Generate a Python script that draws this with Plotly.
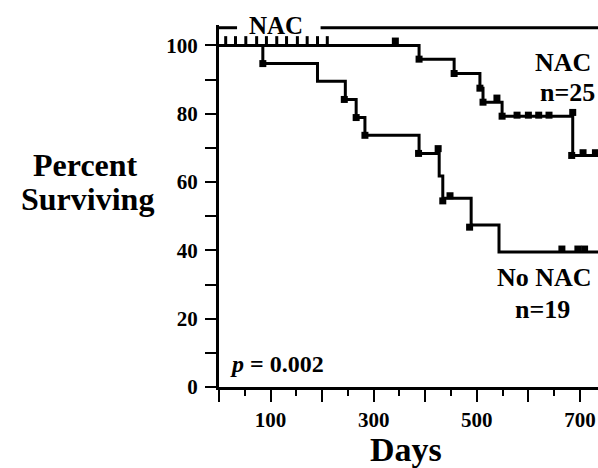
import plotly.graph_objects as go

# ---- data ----
nac_days = [0, 388, 456, 506, 512, 549, 686, 735]
nac_pct = [100, 96, 91.8, 87.5, 83.4, 79.3, 67.8, 67.8]

nonac_days = [0, 85, 191, 245, 266, 283, 388, 427, 434, 489, 543, 735]
nonac_pct = [100, 94.7, 89.5, 84.2, 78.9, 73.7, 68.4, 61.8, 55.3, 47.4, 39.5, 39.5]

nac_mark_days = [342, 388, 456, 506, 512, 539, 549, 578, 600, 620, 640, 686, 684, 706, 730]
nac_mark_pct = [101.3, 96, 91.8, 87.5, 83.4, 84.6, 79.3, 79.6, 79.6, 79.6, 79.6, 80.4, 67.8, 68.6, 68.6]

nonac_mark_days = [85, 243, 266, 283, 387, 425, 434, 448, 486, 665, 696, 709]
nonac_mark_pct = [94.7, 84.2, 78.9, 73.7, 68.4, 69.8, 54.5, 56.0, 46.8, 40.4, 40.4, 40.4]

nac_censor_days = [13, 32, 52, 73, 92, 112, 131, 152, 171, 191, 210]
nac_censor_pct = [101.3] * len(nac_censor_days)

x_tick_vals = [0, 100, 200, 300, 400, 500, 600, 700]
x_tick_text = ["", "100", "", "300", "", "500", "", "700"]
y_tick_vals = [0, 20, 40, 60, 80, 100]
y_tick_text = ["0", "20", "40", "60", "80", "100"]

# ---- layout geometry (pixels) ----
W, H = 598, 468
L, R, T, B = 219, 0, 25, 81
PW, PH = W - L - R, H - T - B
FONT = "Liberation Serif"


def px(x):
    return (x - L) / PW


def py(y):
    return (H - B - y) / PH


fig = go.Figure()
line_style = dict(color="black", width=3, shape="hv")
fig.add_trace(go.Scatter(x=nac_days, y=nac_pct, mode="lines", line=line_style, hoverinfo="skip"))
fig.add_trace(go.Scatter(x=nonac_days, y=nonac_pct, mode="lines", line=line_style, hoverinfo="skip"))
sq = dict(symbol="square", size=7, color="black", line=dict(width=0))
fig.add_trace(go.Scatter(x=nac_mark_days, y=nac_mark_pct, mode="markers", marker=sq, hoverinfo="skip"))
fig.add_trace(go.Scatter(x=nonac_mark_days, y=nonac_mark_pct, mode="markers", marker=sq, hoverinfo="skip"))
fig.add_trace(go.Scatter(x=nac_censor_days, y=nac_censor_pct, mode="markers",
                         marker=dict(symbol="line-ns", size=7, line=dict(width=3, color="black")),
                         hoverinfo="skip"))

# NAC treatment bar at the top
bar = dict(type="line", xref="x", yref="y", line=dict(color="black", width=3))
fig.add_shape(**bar, x0=0, x1=35, y0=105.2, y1=105.2)
fig.add_shape(**bar, x0=197, x1=735, y0=105.2, y1=105.2)

bold = dict(family=FONT, color="black", weight="bold")


def ann(text, x, y, size, xanchor="center"):
    fig.add_annotation(text=text, x=px(x), y=py(y), xref="paper", yref="paper",
                       xanchor=xanchor, yanchor="middle", showarrow=False,
                       font=dict(size=size, **bold))


ann("Percent", 85, 165, 32)
ann("Surviving", 87, 199, 32)
ann("Days", 406, 449, 34)
ann("<i>p</i> = 0.002", 228, 364, 24, "left")
ann("NAC", 276, 25, 25)
ann("NAC", 533, 62, 26, "left")
ann("n=25", 538, 92, 26, "left")
ann("No NAC", 495, 277, 26, "left")
ann("n=19", 513, 309, 26, "left")

fig.update_layout(
    width=W, height=H,
    margin=dict(l=L, r=R, t=T, b=B, pad=0),
    paper_bgcolor="white", plot_bgcolor="white",
    showlegend=False,
    xaxis=dict(range=[0, 735], showline=True, linecolor="black", linewidth=3,
               showgrid=False, zeroline=False, ticks="outside", ticklen=12, tickwidth=2,
               tickcolor="black", tickmode="array", tickvals=x_tick_vals, ticktext=x_tick_text,
               tickfont=dict(size=21, **bold),
               minor=dict(dtick=50, ticklen=6, tickwidth=2, tickcolor="black", ticks="outside", showgrid=False)),
    yaxis=dict(range=[0, 106], showline=True, linecolor="black", linewidth=3,
               showgrid=False, zeroline=False, ticks="outside", ticklen=11, tickwidth=2,
               tickcolor="black", tickmode="array", tickvals=y_tick_vals, ticktext=y_tick_text,
               tickfont=dict(size=21, **bold), ticklabelstandoff=3,
               minor=dict(dtick=10, ticklen=11, tickwidth=2, tickcolor="black", ticks="outside", showgrid=False)),
)

fig.write_html("out.html", config={"displayModeBar": False, "staticPlot": True},
               post_script="document.body.style.margin='0px';document.body.style.overflow='hidden';")
